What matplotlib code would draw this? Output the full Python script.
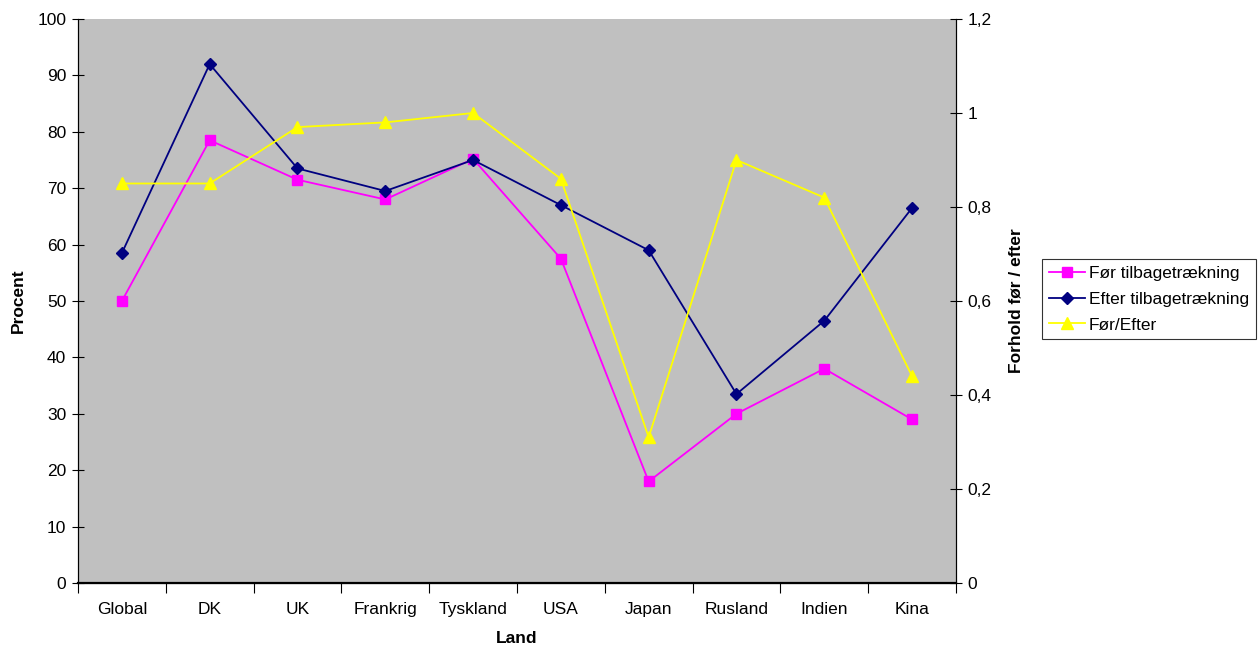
import matplotlib.pyplot as plt
import numpy as np

plt.rcParams['font.family'] = ['Liberation Sans', 'DejaVu Sans']

lande = ['Global', 'DK', 'UK', 'Frankrig', 'Tyskland', 'USA', 'Japan', 'Rusland', 'Indien', 'Kina']
foer = [50, 78.5, 71.5, 68, 75.2, 57.5, 18, 30, 38, 29]
efter = [58.5, 92, 73.5, 69.5, 75, 67, 59, 33.5, 46.5, 66.5]
forhold = [0.85, 0.85, 0.97, 0.98, 1.0, 0.86, 0.31, 0.9, 0.82, 0.44]

x = np.arange(len(lande))
fs = 12.5

fig = plt.figure(figsize=(12.6, 6.48), dpi=100)
ax = fig.add_axes([0.0619, 0.1003, 0.6968, 0.8704])
ax.set_facecolor('#C0C0C0')

l1, = ax.plot(x, foer, color='#FF00FF', marker='s', markersize=7, lw=1.3, label='Før tilbagetrækning')
l2, = ax.plot(x, efter, color='#000080', marker='D', markersize=6, lw=1.3, label='Efter tilbagetrækning')

ax2 = ax.twinx()
l3, = ax2.plot(x, forhold, color='#FFFF00', marker='^', markersize=8, lw=1.3, label='Før/Efter')

ax.set_xlim(-0.5, len(lande) - 0.5)
ax.set_ylim(0, 100)
ax.set_yticks(range(0, 101, 10))
ax2.set_ylim(0, 1.2)
ax2.set_yticks(np.arange(0, 1.21, 0.2))
ax2.set_yticklabels(['0', '0,2', '0,4', '0,6', '0,8', '1', '1,2'])

# kategorier mellem tick-markeringer
ax.set_xticks(np.arange(-0.5, len(lande), 1))
ax.set_xticklabels([])
ax.set_xticks(x, minor=True)
ax.set_xticklabels(lande, minor=True)
ax.tick_params(axis='x', which='minor', length=0, pad=14, labelsize=fs)
ax.tick_params(axis='x', which='major', direction='out', length=7, width=0.8)
ax.tick_params(axis='y', direction='inout', length=9, width=0.8, labelsize=fs, pad=4)
ax2.tick_params(axis='y', direction='inout', length=9, width=0.8, labelsize=fs, pad=4)

for a in (ax, ax2):
    a.spines['top'].set_visible(False)
ax.spines['bottom'].set_linewidth(1.6)

ax.set_xlabel('Land', fontsize=fs, fontweight='bold', labelpad=10)
ax.set_ylabel('Procent', fontsize=fs, fontweight='bold', labelpad=8)
ax2.set_ylabel('Forhold før / efter', fontsize=fs, fontweight='bold', labelpad=12)

fig.legend(handles=[l1, l2, l3], loc='center left', bbox_to_anchor=(0.827, 0.538),
           fontsize=fs, frameon=True, fancybox=False, edgecolor='black',
           handlelength=2.1, handletextpad=0.2, borderpad=0.4, labelspacing=0.6,
           borderaxespad=0).get_frame().set_linewidth(0.8)

fig.savefig('out.png', dpi=100)
